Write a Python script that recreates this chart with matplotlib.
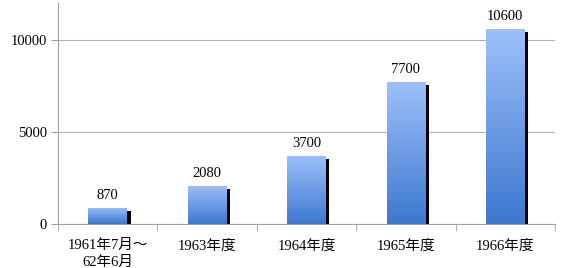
import numpy as np
import matplotlib.pyplot as plt
import matplotlib.colors as mcolors

plt.rcParams['font.family'] = ['Liberation Serif', 'Noto Sans CJK JP']

labels = ['1961年7月～\n62年6月', '1963年度', '1964年度', '1965年度', '1966年度']
values = [870, 2080, 3700, 7700, 10600]
yticks = [0, 5000, 10000]

fig = plt.figure(figsize=(5.61, 2.68), dpi=100)
ax = fig.add_axes([58/561, 44/268, 497/561, 221/268])

x = np.arange(len(values))
w = 0.39
cmap = mcolors.LinearSegmentedColormap.from_list('bl', ['#3d78cf', '#9cc0fa'])
grad = np.linspace(0, 1, 100).reshape(-1, 1)

for xi, v in zip(x, values):
    # black shadow strip on the right
    ax.bar(xi + w/2 + 0.018, v - 170, width=0.036, bottom=0, color='black', zorder=2)
    bars = ax.bar(xi, v, width=w, color='none', zorder=3)
    im = ax.imshow(grad, cmap=cmap, origin='lower', aspect='auto',
                   extent=[xi - w/2, xi + w/2, 0, v], zorder=3)
    im.set_clip_path(bars[0])
    ax.text(xi, v + 320, str(v), ha='center', va='bottom', fontsize=10.5)

ax.set_xlim(-0.5, len(values) - 0.5)
ax.set_ylim(0, 12000)
ax.set_yticks(yticks)
ax.set_yticklabels([str(t) for t in yticks], fontsize=10.5)
ax.set_xticks(x)
ax.set_xticklabels(labels, fontsize=10.5, linespacing=1.3)
ax.tick_params(axis='x', length=0, pad=11)
ax.set_xticks(np.arange(len(values) + 1) - 0.5, minor=True)
ax.tick_params(axis='x', which='minor', length=5, color='#a0a0a0')
ax.tick_params(axis='y', length=5, color='#a0a0a0', pad=3)
ax.yaxis.grid(True, color='#b0b0b0', linewidth=0.8)
ax.set_axisbelow(True)
for s in ['top', 'right']:
    ax.spines[s].set_visible(False)
for s in ['left', 'bottom']:
    ax.spines[s].set_color('#a0a0a0')
    ax.spines[s].set_linewidth(0.8)

fig.savefig('out.png', dpi=100)
